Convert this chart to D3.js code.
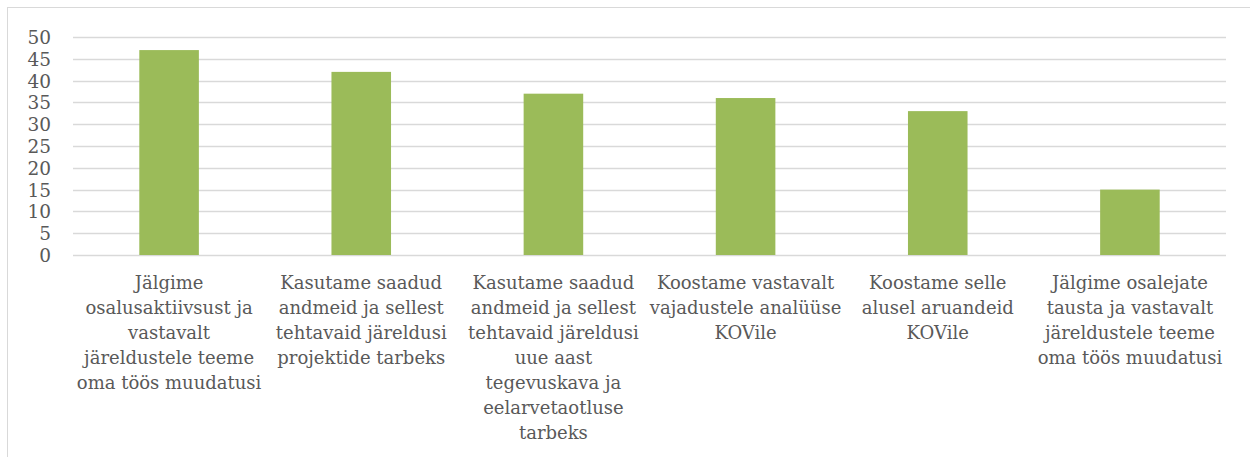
<!DOCTYPE html>
<html>
<head>
<meta charset="utf-8">
<script src="https://cdn.jsdelivr.net/npm/d3@7"></script>
<style>
  body { margin: 0; background: #fff; }
  text { font-family: "DejaVu Serif", serif; fill: #595959; }
</style>
</head>
<body>
<div id="chart"></div>
<script>
// categories (pre-wrapped like the original axis labels)
const categories = [
  ["Jälgime", "osalusaktiivsust ja", "vastavalt", "järeldustele teeme", "oma töös muudatusi"],
  ["Kasutame saadud", "andmeid ja sellest", "tehtavaid järeldusi", "projektide tarbeks"],
  ["Kasutame saadud", "andmeid ja sellest", "tehtavaid järeldusi", "uue aast", "tegevuskava ja", "eelarvetaotluse", "tarbeks"],
  ["Koostame vastavalt", "vajadustele analüüse", "KOVile"],
  ["Koostame selle", "alusel aruandeid", "KOVile"],
  ["Jälgime osalejate", "tausta ja vastavalt", "järeldustele teeme", "oma töös muudatusi"]
];
const values = [47, 42, 37, 36, 33, 15];
const yTicks = [0, 5, 10, 15, 20, 25, 30, 35, 40, 45, 50];

const W = 1250, H = 457;
const MARGIN = { TOP: 37, BOTTOM: 202, LEFT: 73, RIGHT: 24 };

const svg = d3.select("#chart")
  .append("svg")
  .attr("width", W)
  .attr("height", H);

// chart area border
svg.append("rect")
  .attr("x", 7.5).attr("y", 7.5)
  .attr("width", W).attr("height", H)
  .attr("fill", "none")
  .attr("stroke", "#d9d9d9");

const x = d3.scaleBand()
  .domain(d3.range(categories.length))
  .range([MARGIN.LEFT, W - MARGIN.RIGHT])
  .paddingInner(0.69)
  .paddingOuter(0.345);

const y = d3.scaleLinear()
  .domain([0, 50])
  .range([H - MARGIN.BOTTOM, MARGIN.TOP]);

// gridlines
svg.append("g")
  .selectAll("line")
  .data(yTicks)
  .enter()
  .append("line")
    .attr("x1", MARGIN.LEFT)
    .attr("x2", W - MARGIN.RIGHT)
    .attr("y1", d => Math.round(y(d)) + 0.5)
    .attr("y2", d => Math.round(y(d)) + 0.5)
    .attr("stroke", "#d9d9d9")
    .attr("stroke-width", 1.3);

// y axis labels
const yAxis = svg.append("g")
  .attr("transform", `translate(${MARGIN.LEFT - 22}, 0)`)
  .call(d3.axisLeft(y).tickValues(yTicks).tickSize(0).tickPadding(0));
yAxis.select(".domain").remove();
yAxis.selectAll("text")
  .style("font-family", "'DejaVu Serif', serif")
  .style("font-size", "18.5px")
  .attr("fill", "#595959")
  .attr("dy", "0.35em");

// bars
svg.append("g")
  .selectAll("rect")
  .data(values)
  .enter()
  .append("rect")
    .attr("x", (d, i) => x(i))
    .attr("width", x.bandwidth())
    .attr("y", d => y(d))
    .attr("height", d => y(0) - y(d))
    .attr("fill", "#9bbb59");

// x axis labels
const labels = svg.append("g")
  .selectAll("text")
  .data(categories)
  .enter()
  .append("text")
    .attr("text-anchor", "middle")
    .attr("font-size", "18px")
    .attr("x", (d, i) => x(i) + x.bandwidth() / 2)
    .attr("y", 289);

labels.selectAll("tspan")
  .data(d => d)
  .enter()
  .append("tspan")
    .attr("x", function() { return d3.select(this.parentNode).attr("x"); })
    .attr("dy", (d, i) => i === 0 ? 0 : 25)
    .text(d => d);
</script>
</body>
</html>
